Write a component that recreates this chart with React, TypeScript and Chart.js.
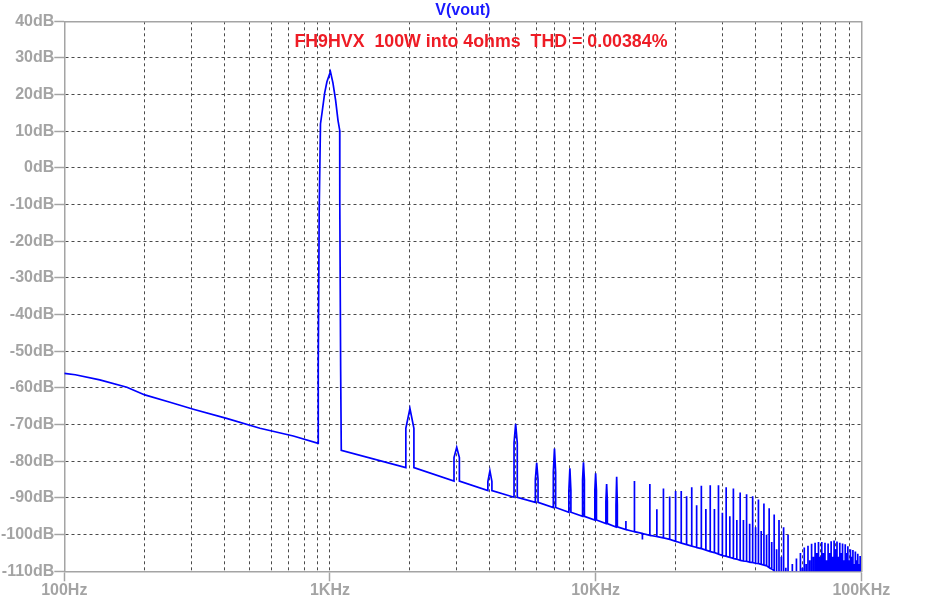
import { useEffect, useRef } from 'react';
import { Chart, registerables } from 'chart.js';

Chart.register(...registerables);

// ---- Axis definitions ----
const yMinDb = -110;
const yMaxDb = 40;
const xMinHz = 100;
const xMaxHz = 100000;
const xTickHz = [
  100, 200, 300, 400, 500, 600, 700, 800, 900,
  1000, 2000, 3000, 4000, 5000, 6000, 7000, 8000, 9000,
  10000, 20000, 30000, 40000, 50000, 60000, 70000, 80000, 90000,
  100000,
];
const xDecadeLabels: Record<number, string> = { 100: '100Hz', 1000: '1KHz', 10000: '10KHz', 100000: '100KHz' };

// ---- Trace data ----
// noise floor below the fundamental
const lowHz = [100, 110, 136, 172, 201, 250, 306, 408, 545, 728, 903];
const lowDb = [-56.0, -56.4, -57.8, -59.8, -61.9, -63.9, -65.8, -68.3, -71.0, -73.1, -75.1];

// fundamental (1 kHz) outline
const fundHz = [903, 904, 911, 921, 935, 955, 974, 1004, 1026, 1050, 1072, 1088, 1089, 1097, 1103];
const fundDb = [-75.1, -53.6, -11, 12, 15.4, 20.4, 23.5, 26.3, 23.2, 18.5, 13, 10.3, -10, -54.8, -77];

// harmonics (order n -> n kHz)
const harmonicOrder = [
  2, 3, 4, 5, 6, 7, 8, 9, 10, 11, 12, 13, 14, 15, 16, 17, 18, 19, 20,
  21, 22, 23, 24, 25, 26, 27, 28, 29, 30, 31, 32, 33, 34, 35, 36, 37, 38, 39, 40,
  41, 42, 43, 44, 45, 46, 47, 48, 49, 50, 51, 52, 53, 54, 55, 56, 57, 58, 59, 60,
  61, 62, 63, 64, 65, 66, 67, 68, 69, 70, 71, 72, 73, 74, 75, 76, 77, 78, 79, 80,
  81, 82, 83, 84, 85, 86, 87, 88, 89, 90, 91, 92, 93, 94, 95, 96, 97, 98, 99,
];
const harmonicTopDb = [
  -65.6, -76.2, -82.6, -69.8, -80.4, -76.5, -81.9, -80.3, -83.3, -86.2, -84.2, -96.3, -85.4, -101.3, -86.2, -93.1, -87.4, -89.6, -88.1,
  -88.1, -89.5, -87.1, -92, -86.7, -93, -86.5, -93, -86.5, -94, -87.1, -95, -87.4, -96, -88.5, -96, -89, -97, -89.5, -98,
  -90.4, -99, -91.5, -100, -92.8, -102, -94.5, -104, -96, -106, -98, -109, -100, -110, -108, -110, -106.5, -110, -105, -109,
  -103.5, -108, -103, -107, -102.5, -106, -102.2, -105, -102, -106, -102, -105, -102.2, -107, -102.4, -105, -101.8, -106, -101.6, -104,
  -101.9, -106, -102.2, -105, -102.4, -107, -102.6, -105, -103.2, -107, -104, -106, -104.2, -108, -104.6, -107, -105.2, -108, -105.8,
];
// side-bin level for the wider low harmonics (2..12 kHz)
const harmonicShoulderDb = [-71, -79, -85.5, -75, -85, -83, -88, -85, -88, -91, -92];
// floor level at each harmonic (2..47 kHz); above that the floor is below the axis
const harmonicFloorDb = [
  -81.7, -85.4, -88.0, -89.8, -91.2, -92.6, -93.9, -95.0, -96.0, -97.0, -97.9, -98.6, -99.2, -99.7, -100.2, -100.5, -100.9, -101.3, -101.8,
  -102.3, -102.7, -103.1, -103.5, -103.8, -104.2, -104.6, -104.9, -105.3, -105.7, -105.9, -106.2, -106.5, -106.7, -107.0, -107.2, -107.3, -107.5, -107.6, -107.8,
  -107.9, -108.1, -108.3, -108.5, -109.0, -109.4, -109.8,
];
const belowAxisDb = -115;
const fundamentalHz = 1000;
const binHalfWidthHz = 70;

// ---- Annotation ----
const noteText = 'FH9HVX  100W into 4ohms  THD = 0.00384%';
const noteHz = 3700;
const noteDb = 33;
const titleText = 'V(vout)';

const fontFamily = '"Liberation Sans", Arial, sans-serif';
const axisGray = '#a4a4a4';
const gridGray = '#4a4a4a';
const traceBlue = '#0000ff';
const noteRed = '#ee1c25';

function buildTrace() {
  const pts: { x: number; y: number }[] = [];
  lowHz.forEach((f, i) => pts.push({ x: f, y: lowDb[i] }));
  fundHz.forEach((f, i) => pts.push({ x: f, y: fundDb[i] }));
  harmonicOrder.forEach((n, i) => {
    const f = n * fundamentalHz;
    const base = i < harmonicFloorDb.length ? harmonicFloorDb[i] : belowAxisDb;
    const top = harmonicTopDb[i];
    const sh = harmonicShoulderDb[i];
    if (sh !== undefined) {
      pts.push(
        { x: f - binHalfWidthHz, y: base },
        { x: f - binHalfWidthHz, y: sh },
        { x: f, y: top },
        { x: f + binHalfWidthHz, y: sh },
        { x: f + binHalfWidthHz, y: base },
      );
    } else {
      pts.push({ x: f, y: base }, { x: f, y: top }, { x: f, y: base });
    }
  });
  pts.push({ x: xMaxHz, y: belowAxisDb });
  return pts;
}

export default function App() {
  const ref = useRef<HTMLCanvasElement>(null);

  useEffect(() => {
    const notePlugin = {
      id: 'thdNote',
      afterDatasetsDraw(chart: any) {
        const { ctx, scales } = chart;
        ctx.save();
        ctx.font = `bold 17.8px ${fontFamily}`;
        ctx.fillStyle = noteRed;
        ctx.textAlign = 'center';
        ctx.textBaseline = 'alphabetic';
        ctx.fillText(noteText, scales.x.getPixelForValue(noteHz), scales.y.getPixelForValue(noteDb));
        ctx.restore();
      },
    };

    const tickFont = { family: fontFamily, size: 16, weight: 'bold' as const };

    const chart = new Chart(ref.current!, {
      type: 'line',
      data: {
        datasets: [
          {
            data: buildTrace(),
            borderColor: traceBlue,
            borderWidth: 1.7,
            pointRadius: 0,
            tension: 0,
            fill: false,
            clip: 0,
            xAxisID: 'x',
            yAxisID: 'y',
          },
        ],
      },
      options: {
        animation: false,
        responsive: false,
        events: [],
        layout: { padding: 0 },
        plugins: { legend: { display: false }, tooltip: { enabled: false }, title: { display: false } },
        scales: {
          x: {
            type: 'logarithmic',
            position: 'bottom',
            min: xMinHz,
            max: xMaxHz,
            afterBuildTicks: (s: any) => {
              s.ticks = xTickHz.map((v) => ({ value: v }));
            },
            afterFit: (s: any) => {
              s.height = 29.7;
            },
            ticks: {
              autoSkip: false,
              maxRotation: 0,
              minRotation: 0,
              padding: 0,
              color: axisGray,
              font: tickFont,
              callback: (v: any) => xDecadeLabels[Number(v)] ?? '',
            },
            grid: {
              color: (c: any) => (c.tick && (c.tick.value === xMinHz || c.tick.value === xMaxHz) ? 'rgba(0,0,0,0)' : gridGray),
              lineWidth: 1,
              tickLength: 10,
              tickColor: (c: any) => (c.tick && xDecadeLabels[c.tick.value] ? axisGray : 'rgba(0,0,0,0)'),
              tickWidth: 1.5,
            },
            border: { display: true, color: axisGray, width: 1.5, dash: [3, 3] },
          },
          xTop: {
            type: 'linear',
            position: 'top',
            min: 0,
            max: 1,
            afterFit: (s: any) => {
              s.height = 21.3;
            },
            ticks: { display: false },
            grid: { display: false },
            border: { display: true, color: axisGray, width: 1.5 },
            title: {
              display: true,
              text: titleText,
              color: '#1a1aff',
              font: { family: fontFamily, size: 16, weight: 'bold' },
              padding: { top: 1, bottom: 0 },
            },
          },
          y: {
            type: 'linear',
            position: 'left',
            min: yMinDb,
            max: yMaxDb,
            afterFit: (s: any) => {
              s.width = 64.3;
            },
            ticks: {
              stepSize: 10,
              padding: 0,
              color: axisGray,
              font: tickFont,
              callback: (v: any) => `${v}dB`,
            },
            grid: {
              color: (c: any) => (c.tick && (c.tick.value === yMinDb || c.tick.value === yMaxDb) ? 'rgba(0,0,0,0)' : gridGray),
              lineWidth: 1,
              tickLength: 10,
              tickColor: axisGray,
              tickWidth: 1.5,
            },
            border: { display: true, color: axisGray, width: 1.5, dash: [3, 3] },
          },
          yRight: {
            type: 'linear',
            position: 'right',
            min: 0,
            max: 1,
            afterFit: (s: any) => {
              s.width = 73.7;
            },
            ticks: { display: false },
            grid: { display: false },
            border: { display: true, color: axisGray, width: 1.5 },
          },
        },
      } as any,
      plugins: [notePlugin],
    });
    return () => chart.destroy();
  }, []);

  return (
    <div style={{ position: 'fixed', left: 0, top: 0, width: 935, height: 601, background: '#ffffff' }}>
      <canvas ref={ref} width={935} height={601} style={{ display: 'block' }} />
    </div>
  );
}
